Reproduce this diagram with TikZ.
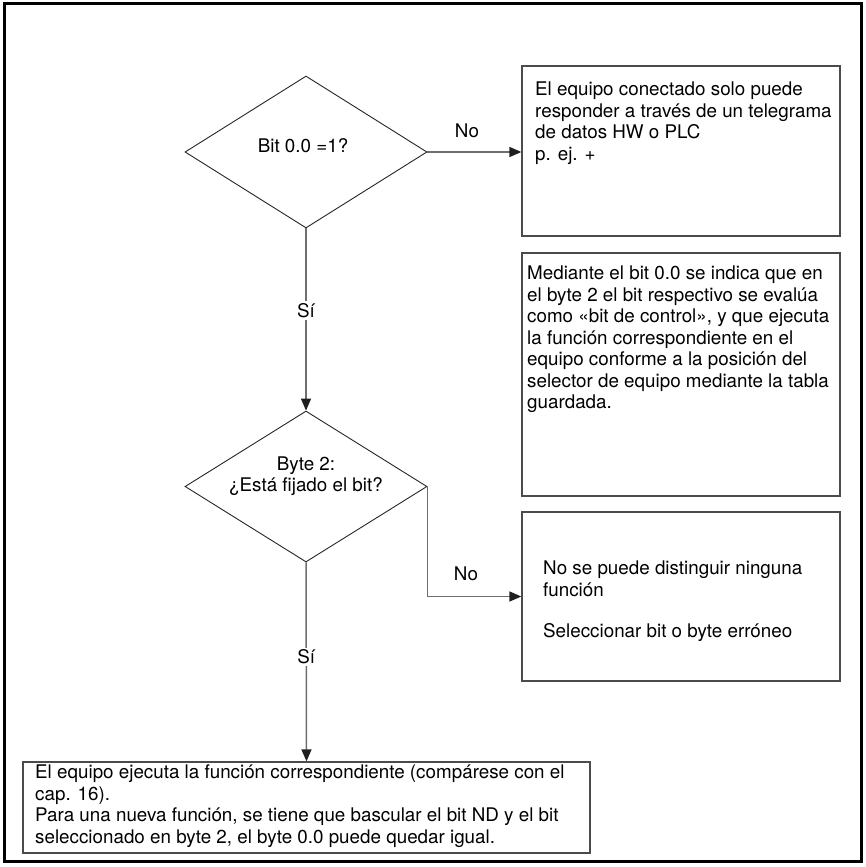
\documentclass[tikz,border=0pt]{standalone}
\usepackage{fontspec}
\setmainfont{TeX Gyre Heros}
\usepackage{xcolor}
\definecolor{flowgray}{RGB}{110,110,110}
\definecolor{boxgray}{RGB}{75,75,75}
\definecolor{tipblack}{RGB}{30,30,30}
\usetikzlibrary{arrows.meta, positioning, shapes.geometric, calc}

\begin{document}
\begin{tikzpicture}[x=1pt, y=-1pt,
  every node/.style={font=\fontsize{18.8}{21.5}\selectfont},
  decision/.style={shape=diamond, draw=black!85, line width=0.9pt, minimum width=242pt, inner sep=0pt},
  infobox/.style={draw=boxgray, line width=1.3pt, inner sep=0pt, minimum width=318pt},
  boxtext/.style={anchor=north west, align=left, inner sep=0pt},
  flow/.style={draw=flowgray, line width=1.5pt},
  flowarrow/.style={flow, -{Triangle[length=12pt, width=10pt, color=tipblack]}},
  answer/.style={fill=white, inner sep=2pt}]
  \useasboundingbox (0,0) rectangle (865,867);

  % outer frame
  \draw[line width=3pt] (4,4) rectangle (861,861);

  % --- decisions ---
  \node[decision, minimum height=152pt] (d1) at (306,152) {};
  \node (q1) at (303,146) {Bit 0.0 =1?};
  \node[decision, minimum height=151pt] (d2) at (306,486.5) {};
  \node[align=center] (q2) at (306,476) {Byte 2:\\¿Está fijado el bit?};

  % --- boxes on the right ---
  \node[infobox, minimum height=170pt] (b1) at (681,151) {};
  \node[boxtext] (t1) at (535,82) {El equipo conectado solo puede\\responder a través de un telegrama\\de datos HW o PLC\\p. ej. +};

  \node[infobox, minimum height=243pt] (b2) at (681,374.5) {};
  \node[boxtext] (t2) at (527,266) {Mediante el bit 0.0 se indica que en\\el byte 2 el bit respectivo se evalúa\\como «bit de control», y que ejecuta\\la función correspondiente en el\\equipo conforme a la posición del\\selector de equipo mediante la tabla\\guardada.};

  \node[infobox, minimum height=169pt] (b3) at (681,596.5) {};
  \node[boxtext] (t3) at (543,561) {No se puede distinguir ninguna\\función\\[20pt]Seleccionar bit o byte erróneo};

  % --- result box ---
  \node[infobox, minimum width=567pt, minimum height=91pt] (b4) at (306.5,807.5) {};
  \node[boxtext] (t4) at (35,765) {El equipo ejecuta la función correspondiente (compárese con el\\cap. 16).\\Para una nueva función, se tiene que bascular el bit ND y el bit\\seleccionado en byte 2, el byte 0.0 puede quedar igual.};

  % --- connectors ---
  \draw[flowarrow] (d1.east) -- (d1.east -| b1.west);
  \node (no1) at (467,131) {No};
  \draw[flowarrow] (d1.south) -- node[answer, pos=0.45] (si1) {Sí} (d2.north);
  \draw[flowarrow] (d2.east) |- (b3.west);
  \node (no2) at (466,574) {No};
  \draw[flowarrow] (d2.south) -- node[answer, pos=0.475] (si2) {Sí} (b4.north);
\end{tikzpicture}
\end{document}
